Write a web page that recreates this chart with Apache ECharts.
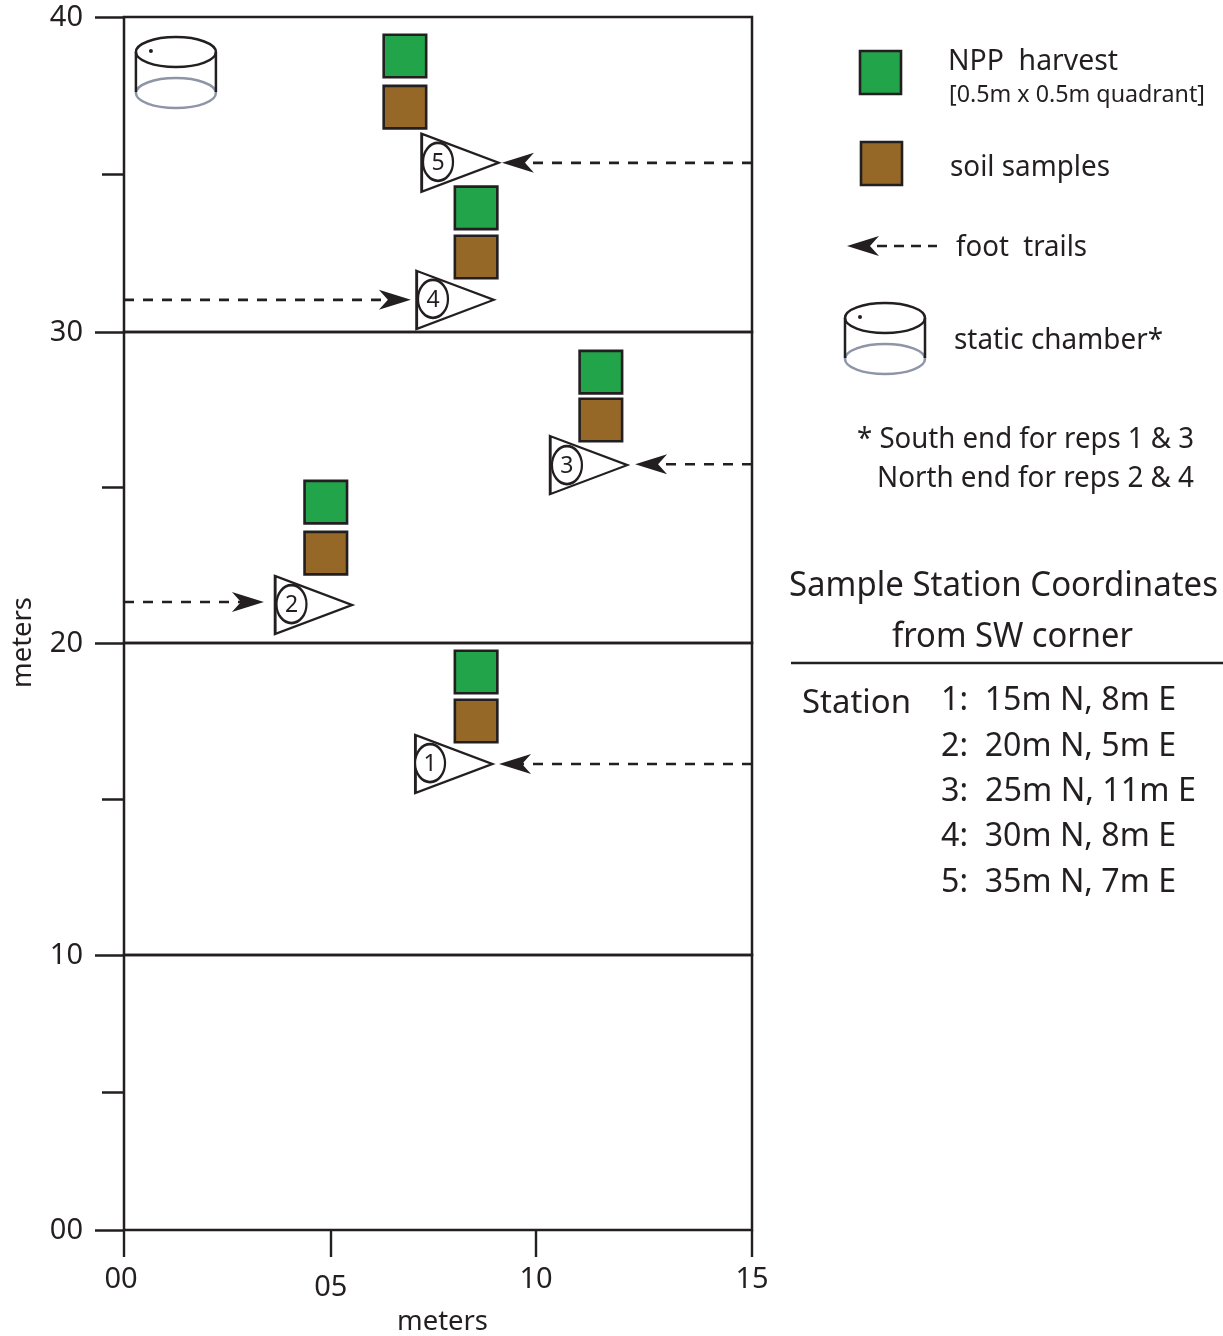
<!DOCTYPE html>
<html><head><meta charset="utf-8">
<style>html,body{margin:0;padding:0;background:#fff}#c{width:1223px;height:1336px}</style>
<script src="https://cdn.jsdelivr.net/npm/echarts@6/dist/echarts.min.js"></script>
</head><body><div id="c"></div>
<script>
// ---- data (metres, in station order 1..5) ----
const stationIds = [1, 2, 3, 4, 5];
const stationX = [7.88, 4.53, 11.1, 7.91, 8.03];
const stationY = [16.12, 21.22, 25.72, 31.02, 35.37];
const circleX = [7.31, 4.0, 10.58, 7.38, 7.5];
const circleY = [16.15, 21.25, 25.72, 31.05, 35.4];
const harvestX = [8.41, 4.82, 11.39, 8.41, 6.71];
const harvestY = [19.07, 24.53, 28.71, 33.94, 38.76];
const soilX = [8.41, 4.82, 11.39, 8.41, 6.71];
const soilY = [17.5, 22.89, 27.17, 32.38, 37.14];
const trailFromX = [15, 0, 15, 0, 15];
const trailToX = [9.34, 2.96, 12.59, 6.47, 9.41];
const trailY = [16.12, 21.32, 25.75, 31.02, 35.37];
const chamberX = [1.24];
const chamberY = [38.22];
const xTickValues = [0, 4.94, 9.84, 15];
const xTickLabels = ['00', '05', '10', '15'];
const coordN = [15, 20, 25, 30, 35];
const coordE = [8, 5, 11, 8, 7];
const yBands = [[0, 10], [10, 20], [20, 30], [30, 40]];

// ---- style and layout ----
const INK = '#231f20', GREEN = '#22a44b', BROWN = '#966828', GREY = '#8e95a8';
const FONT = '"Noto Sans"';
const bandEdges = [1230, 955, 643, 332, 17];
const TRI = 'path://M0 0L78 29L0 58Z';
const ELL = 'path://M15 0C23.3 0 30 8.5 30 19C30 29.5 23.3 38 15 38C6.7 38 0 29.5 0 19C0 8.5 6.7 0 15 0Z';
const ARW = 'path://M0 10L32 0L23 10L32 20Z';

const bandOf = y => Math.min(3, Math.floor(y / 10));
const ctx = document.createElement('canvas').getContext('2d');
function txt(text, x, yc, width, size, extra) {
  const font = size + 'px ' + FONT;
  ctx.font = font;
  return Object.assign({
    type: 'text', x, y: yc + 2, scaleX: width / ctx.measureText(text).width, silent: true,
    style: { text, font, fill: INK, textAlign: 'left', textVerticalAlign: 'middle' }
  }, extra || {});
}
function chamberShapes(cx, cy) {
  const s = { stroke: INK, fill: null, lineWidth: 2.5 }, g = { stroke: GREY, fill: null, lineWidth: 2.5 };
  const t = cy - 21, b = cy + 20;
  return [
    { type: 'ellipse', shape: { cx, cy: b, rx: 40, ry: 15 }, style: g },
    { type: 'line', shape: { x1: cx - 40, y1: t, x2: cx - 40, y2: b - 1 }, style: s },
    { type: 'line', shape: { x1: cx + 40, y1: t, x2: cx + 40, y2: b - 1 }, style: s },
    { type: 'ellipse', shape: { cx, cy: t, rx: 40, ry: 15 }, style: s },
    { type: 'circle', shape: { cx: cx - 25, cy: t - 1, r: 2 }, style: { fill: INK } }
  ];
}

const grids = [], xAxes = [], yAxes = [], series = [];
yBands.forEach((band, i) => {
  grids.push({
    left: 124, width: 628, top: bandEdges[i + 1], height: bandEdges[i] - bandEdges[i + 1],
    show: true, borderColor: INK, borderWidth: 2.5, backgroundColor: 'transparent'
  });
  const bottom = i === 0;
  xAxes.push({
    type: 'value', gridIndex: i, min: 0, max: 15, position: 'bottom',
    axisLine: { show: false }, splitLine: { show: false },
    axisTick: { show: bottom, length: 27, lineStyle: { color: INK, width: 2.4 }, customValues: xTickValues },
    axisLabel: {
      show: bottom, customValues: xTickValues, margin: 35, fontFamily: FONT, fontSize: 29, color: INK,
      formatter: v => {
        const s = xTickLabels[xTickValues.indexOf(v)];
        return s === '05' ? '{low|05}' : s === '00' ? '{lft|00}' : s;
      },
      rich: {
        low: { fontFamily: FONT, fontSize: 29, color: INK, padding: [8, 0, 0, 0] },
        lft: { fontFamily: FONT, fontSize: 29, color: INK, padding: [0, 6, 0, 0] }
      }
    }
  });
  yAxes.push({
    type: 'value', gridIndex: i, min: band[0], max: band[1], interval: 10,
    axisLine: { show: false }, splitLine: { show: false },
    axisTick: { show: true, length: 29, lineStyle: { color: INK, width: 2.5 } },
    minorTick: { show: true, splitNumber: 2, length: 22, lineStyle: { color: INK, width: 2.5 } },
    axisLabel: {
      margin: 41, fontFamily: FONT, fontSize: 29, color: INK, showMinLabel: true, showMaxLabel: i === 3,
      formatter: v => '{n|' + String(v).padStart(2, '0') + '}',
      rich: { n: { fontFamily: FONT, fontSize: 29, color: INK, padding: [2, 0, 0, 0] } }
    }
  });
});

stationIds.forEach((id, k) => {
  const ax = bandOf(stationY[k]);
  const base = { xAxisIndex: ax, yAxisIndex: ax, animation: false, silent: true };
  const pointsRight = trailFromX[k] < trailToX[k];
  series.push(Object.assign({}, base, {
    type: 'line', name: 'foot trail ' + id, z: 3, showAllSymbol: true,
    lineStyle: { color: INK, width: 2.6, type: [10, 9] },
    itemStyle: { color: INK, borderWidth: 0, opacity: 1 },
    data: [
      { value: [trailFromX[k], trailY[k]], symbol: 'none' },
      { value: [trailToX[k], trailY[k]], symbol: ARW, symbolSize: [32, 20], symbolRotate: pointsRight ? 180 : 0 }
    ]
  }));
  series.push(Object.assign({}, base, {
    type: 'scatter', name: 'station ' + id, z: 4, symbol: TRI, symbolSize: [77, 58],
    itemStyle: { color: '#fff', borderColor: INK, borderWidth: 2.5, opacity: 1 },
    data: [[stationX[k], stationY[k]]]
  }));
  series.push(Object.assign({}, base, {
    type: 'scatter', name: 'station id ' + id, z: 5, symbol: ELL, symbolSize: [30, 38],
    itemStyle: { color: '#fff', borderColor: INK, borderWidth: 2.5, opacity: 1 },
    label: { show: true, position: 'inside', formatter: '{d|' + id + '}', rich: { d: { fontFamily: FONT, fontSize: 23, color: INK, padding: [3, 0, 0, 0] } } },
    data: [[circleX[k], circleY[k]]]
  }));
  [['NPP harvest', harvestX, harvestY, GREEN], ['soil samples', soilX, soilY, BROWN]].forEach(([n, xs, ys, col]) => {
    series.push(Object.assign({}, base, {
      type: 'scatter', name: n + ' ' + id, z: 6, symbol: 'rect', symbolSize: 42.5,
      itemStyle: { color: col, borderColor: INK, borderWidth: 2.6, opacity: 1 },
      data: [[xs[k], ys[k]]]
    }));
  });
});
series.push({
  type: 'custom', name: 'static chamber', xAxisIndex: 3, yAxisIndex: 3, z: 6, animation: false, silent: true,
  data: chamberX.map((x, i) => [x, chamberY[i]]),
  renderItem: (params, api) => {
    const p = api.coord([api.value(0), api.value(1)]);
    return { type: 'group', children: chamberShapes(p[0], p[1]) };
  }
});

// ---- legend and notes, as page furniture ----
const graphic = [
  txt('meters', 397, 1320, 91, 27),
  txt('meters', 23, 686, 91, 27, { rotation: Math.PI / 2 }),
  { type: 'rect', shape: { x: 860, y: 51, width: 41, height: 43 }, style: { fill: GREEN, stroke: INK, lineWidth: 2.6 } },
  { type: 'rect', shape: { x: 861, y: 142, width: 41, height: 43 }, style: { fill: BROWN, stroke: INK, lineWidth: 2.6 } },
  { type: 'line', shape: { x1: 877, y1: 246, x2: 937, y2: 246 }, style: { stroke: INK, lineWidth: 2.4, lineDash: [10, 7] } },
  { type: 'polygon', shape: { points: [[847, 246], [879, 236], [870, 246], [879, 256]] }, style: { fill: INK } },
  ...chamberShapes(885, 339),
  txt('NPP  harvest', 948, 60, 170, 29),
  txt('[0.5m x 0.5m quadrant]', 949, 93, 256, 24),
  txt('soil samples', 950, 166, 160, 29),
  txt('foot  trails', 956, 246, 131, 29),
  txt('static chamber*', 954, 339, 209, 29),
  txt('* South end for reps 1 & 3', 857, 438, 337, 29),
  txt('North end for reps 2 & 4', 877, 477, 317, 29),
  txt('Sample Station Coordinates', 789, 584, 429, 35),
  txt('from SW corner', 892, 635, 241, 35),
  { type: 'line', shape: { x1: 791, y1: 663, x2: 1223, y2: 663 }, style: { stroke: INK, lineWidth: 2.4 } },
  txt('Station', 802, 702, 109, 33)
];
const coordWidths = [235, 235, 255, 235, 235];
stationIds.forEach((id, k) => {
  graphic.push(txt(id + ':  ' + coordN[k] + 'm N, ' + coordE[k] + 'm E', 941, 699 + k * 45.4, coordWidths[k], 32));
});

const chart = echarts.init(document.getElementById('c'), null, { renderer: 'canvas' });
chart.setOption({
  animation: false, backgroundColor: '#fff', tooltip: { show: false },
  grid: grids, xAxis: xAxes, yAxis: yAxes, series, graphic
});
</script></body></html>
